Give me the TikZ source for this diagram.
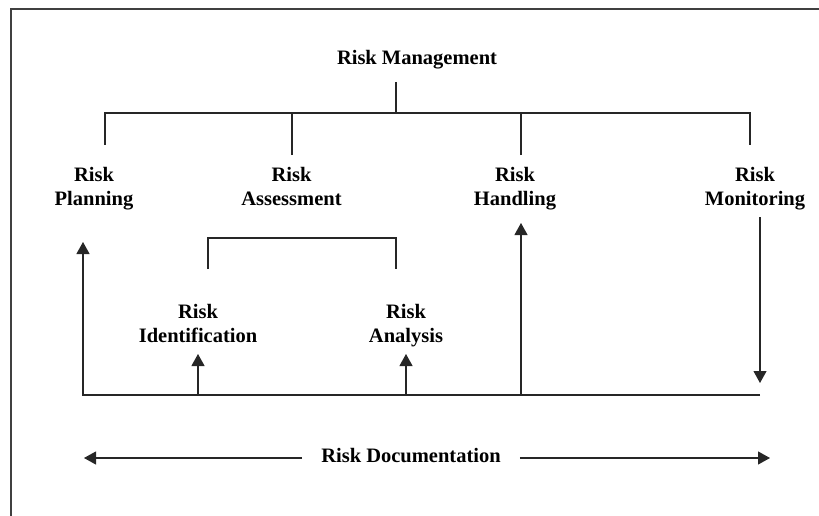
\documentclass[tikz,border=0pt]{standalone}
\usepackage{fontspec}
\setmainfont{Liberation Serif}
\usetikzlibrary{arrows.meta}
\begin{document}
\begin{tikzpicture}[x=1pt,y=-1pt]
    \useasboundingbox (0,0) rectangle (819,516);

    \tikzstyle{label}=[font=\fontsize{20.5}{24}\selectfont\bfseries,align=center,inner sep=0pt,anchor=base]
    \tikzstyle{tree}=[draw=black!85, line width=1.1pt]
    \tikzstyle{fwd}=[draw=black!85, line width=1.1pt, -{Triangle[length=12pt,width=13pt]}]

    % frame, cut at the bottom and on the right
    \draw [draw=black!75, line width=1.3pt] (11,516) -- (11,9) -- (819,9);

    \node[label]  (mgmt)   at (417,65)    {Risk Management};
    \node[label]  (plan)   at (94,205.5)  {Risk\\ Planning};
    \node[label]  (assess) at (291.5,205.5) {Risk\\ Assessment};
    \node[label]  (handl)  at (515,205.5) {Risk\\ Handling};
    \node[label]  (monit)  at (755,205.5) {Risk\\ Monitoring};
    \node[label]  (ident)  at (198,342)   {Risk\\ Identification};
    \node[label]  (analy)  at (406,342)   {Risk\\ Analysis};
    \node[label]  (doc)    at (411,462)   {Risk Documentation};

    % ends of the tree lines
    \coordinate (bus) at (396,113);
    \coordinate (mg)  at (396,82);
    \coordinate (pl)  at (105,145);
    \coordinate (as)  at (292,155);
    \coordinate (ha)  at (521,155);
    \coordinate (mo)  at (750,145);
    \coordinate (idt) at (208,269);
    \coordinate (ant) at (396,269);

          \draw [tree] (mg) -- (bus);
          \draw [tree] (pl) |- (bus) -| (mo);
          \draw [tree] (as) -- (as |- bus);
          \draw [tree] (ha) -- (ha |- bus);
          \draw [tree] (idt) -- ++(0,-31) -| (ant);

    % feedback lines
    \coordinate (fbL) at (83,395);
    \coordinate (fbR) at (760,395);

          \draw [fwd] (fbR) -- (fbL) -- (83,242);
          \draw [fwd] (fbL -| ident) -- (198,354);
          \draw [fwd] (fbL -| analy) -- (406,354);
          \draw [fwd] (fbL -| ha) -- (521,223);
          \draw [fwd] (760,217) -- (760,383);

    % documentation arrows
    \coordinate (docL) at (84,458);
    \coordinate (docR) at (770,458);

          \draw [fwd] ([xshift=-19pt]docL -| doc.west) -- (docL);
          \draw [fwd] ([xshift=19pt]docR -| doc.east) -- (docR);

\end{tikzpicture}
\end{document}
